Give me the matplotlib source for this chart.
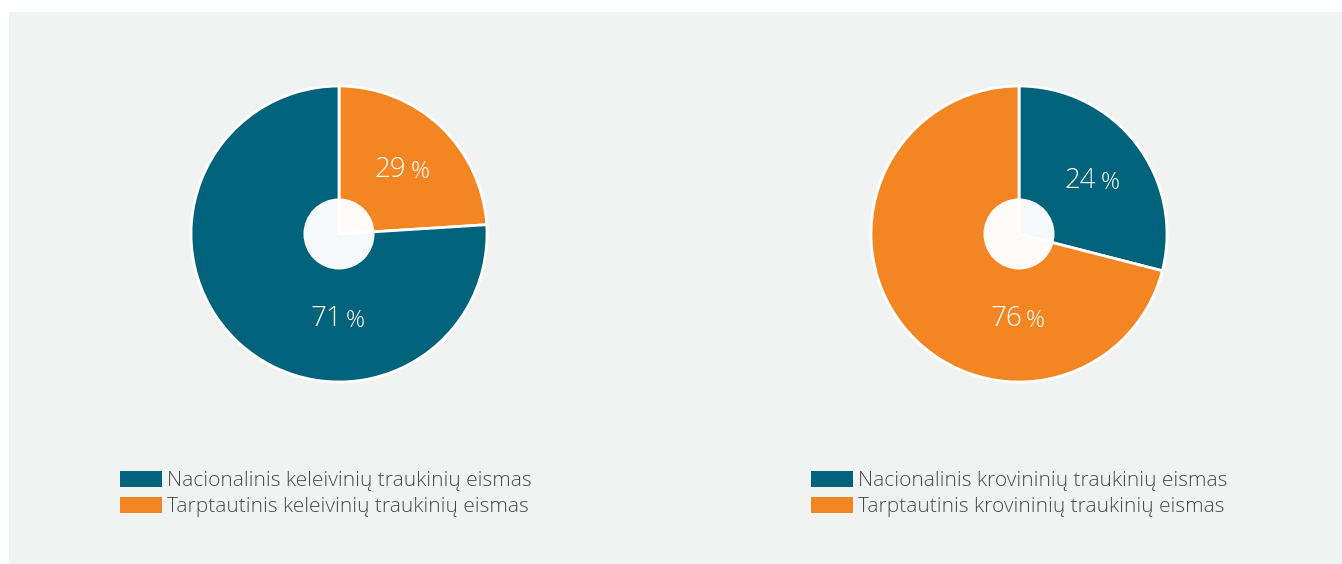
import numpy as np
import matplotlib.pyplot as plt
from matplotlib.patches import Patch, Circle, Rectangle

# legend texts
left_labels = ["Nacionalinis keleivinių traukinių eismas",
               "Tarptautinis keleivinių traukinių eismas"]
right_labels = ["Nacionalinis krovininių traukinių eismas",
                "Tarptautinis krovininių traukinių eismas"]

# slice sizes as drawn (national, international)
left_shares = [76, 24]
right_shares = [29, 71]
# printed percent labels (national, international), as they stand in the source
left_pct = ["71", "29"]
right_pct = ["24", "76"]

BLUE = "#00637c"
ORANGE = "#f38523"
BG = "#f1f3f2"
TXT = "#4a4a4a"
W, H = 1342, 564

fig = plt.figure(figsize=(W / 100, H / 100), dpi=100, facecolor="white")
fig.patches.append(Rectangle((9 / W, 0), 1, 1 - 12 / H, transform=fig.transFigure,
                             facecolor=BG, edgecolor="none", zorder=-10))

R = 148


def draw_pie(cx, cy, shares, pct, labels, leg_x):
    ax = fig.add_axes([(cx - 152) / W, (H - cy - 152) / H, 304 / W, 304 / H])
    colors = [BLUE, ORANGE]
    # smaller slice starts at 12 o'clock, going clockwise
    order = np.argsort(shares)
    wedges, _ = ax.pie([shares[i] for i in order], colors=[colors[i] for i in order],
                       startangle=90, counterclock=False, radius=1,
                       wedgeprops=dict(edgecolor="white", linewidth=2))
    ax.set_xlim(-152 / R, 152 / R)
    ax.set_ylim(-152 / R, 152 / R)
    ax.set_aspect("equal")
    ax.axis("off")
    ax.add_patch(Circle((0, 0), 0.24, facecolor="white", alpha=0.97,
                        edgecolor="none", zorder=5))
    # labels
    for k, i in enumerate(order):
        w = wedges[k]
        if k == 0:
            ang = np.deg2rad((w.theta1 + w.theta2) / 2)
            x, y = 0.615 * np.cos(ang), 0.615 * np.sin(ang)
        else:
            x, y = -0.015, -0.555
        t = ax.text(x + 0.035, y - 0.064, pct[i], ha="right", va="baseline",
                    fontsize=20, color="white", family="Open Sans",
                    fontweight="light", zorder=6)
        ax.annotate("%", xy=(1, 0), xycoords=t, xytext=(3, 0),
                    textcoords="offset points", ha="left", va="bottom",
                    fontsize=17, color="white", family="Open Sans",
                    fontweight="light", zorder=6)
    handles = [Patch(facecolor=BLUE), Patch(facecolor=ORANGE)]
    fig.legend(handles, labels, loc="upper left",
               bbox_to_anchor=(leg_x / W, 1 - 471 / H), frameon=False,
               handlelength=2.0, handleheight=0.77,
               handletextpad=0.25, labelspacing=0.3, borderpad=0,
               borderaxespad=0,
               prop=dict(family="Open Sans", weight="light", size=15),
               labelcolor=TXT)


draw_pie(339, 234, left_shares, left_pct, left_labels, 120)
draw_pie(1019, 234, right_shares, right_pct, right_labels, 811)

fig.savefig("out.png", dpi=100, facecolor="white")
